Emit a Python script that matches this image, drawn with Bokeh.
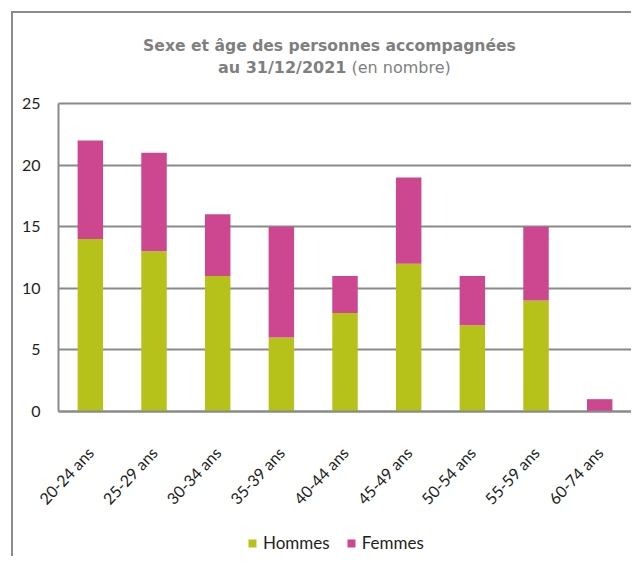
import math
from bokeh.plotting import figure
from bokeh.models import ColumnDataSource, Label, FixedTicker, Range1d, Legend, LegendItem
from bokeh.embed import file_html
from bokeh.resources import INLINE

categories = ["20-24 ans", "25-29 ans", "30-34 ans", "35-39 ans", "40-44 ans",
              "45-49 ans", "50-54 ans", "55-59 ans", "60-74 ans"]
hommes = [14, 13, 11, 6, 8, 12, 7, 9, 0]
femmes = [8, 8, 5, 9, 3, 7, 4, 6, 1]
series = ["Hommes", "Femmes"]
colors = ["#b6c21a", "#cc478f"]
y_ticks = [0, 5, 10, 15, 20, 25]
y_max = 25

GRID = "#8a8a8a"
TXT = "#1e1e1e"
TITLE = "#7f7f7f"

n = len(categories)
xpos = [i + 0.5 for i in range(n)]  # centre of each category slot
src = ColumnDataSource(dict(x=xpos, cat=categories, Hommes=hommes, Femmes=femmes))

p = figure(x_range=Range1d(-0.707, 9.031),
           y_range=Range1d(-11.93, 31.49),
           width=620, height=545, output_backend="svg", toolbar_location=None,
           min_border_left=0, min_border_right=0, min_border_top=10,
           min_border_bottom=0)
p.margin = (11, 0, 0, 11)
p.styles = {"border-left": "2px solid #8c8c8c", "border-top": "2px solid #8c8c8c"}

rs = p.vbar_stack(series, x="x", width=0.4, color=colors, source=src, line_width=0)

p.outline_line_color = None
p.xgrid.grid_line_color = None
p.ygrid.grid_line_color = GRID
p.ygrid.grid_line_width = 2
p.ygrid.bounds = (0, y_max)
p.ygrid.cross_bounds = (0, n)
p.yaxis.ticker = FixedTicker(ticks=y_ticks)
p.yaxis.bounds = (0, y_max)
p.yaxis.fixed_location = 0
p.xaxis.ticker = FixedTicker(ticks=xpos)
p.xaxis.major_label_overrides = {x: c for x, c in zip(xpos, categories)}
p.xaxis.bounds = (0, n)
p.xaxis.fixed_location = 0
for ax in (p.xaxis, p.yaxis):
    ax.axis_line_color = GRID
    ax.axis_line_width = 2
    ax.major_tick_line_color = None
    ax.minor_tick_line_color = None
    ax.major_label_text_font = "Lato"
    ax.major_label_text_font_size = "16px"
    ax.major_label_text_color = TXT
p.yaxis.major_label_standoff = 12
p.xaxis.major_label_orientation = 0.82
p.xaxis.major_label_standoff = 32

# Title (inside the extended frame, above the 25 gridline)
p.add_layout(Label(x=4.256, y=29.63, text="Sexe et âge des personnes accompagnées",
                   text_align="center", text_baseline="middle",
                   text_font="DejaVu Sans", text_font_style="bold",
                   text_font_size="15.6px", text_color=TITLE))
p.add_layout(Label(x=4.523, y=27.92, text="au 31/12/2021",
                   text_align="right", text_baseline="middle",
                   text_font="DejaVu Sans", text_font_style="bold",
                   text_font_size="16px", text_color=TITLE))
p.add_layout(Label(x=4.602, y=27.92, text="(en nombre)",
                   text_align="left", text_baseline="middle",
                   text_font="DejaVu Sans", text_font_style="normal",
                   text_font_size="16px", text_color=TITLE))

lg = Legend(items=[LegendItem(label=s, renderers=[r]) for s, r in zip(series, rs)])
lg.orientation = "horizontal"
lg.location = (234, 5)
lg.border_line_color = None
lg.background_fill_alpha = 0
lg.glyph_width = 10
lg.glyph_height = 10
lg.label_text_font = "Lato"
lg.label_text_font_size = "17px"
lg.label_text_color = TXT
lg.spacing = 16
lg.label_standoff = 6
lg.padding = 4
lg.margin = 0
p.add_layout(lg, "center")

open("out.html", "w").write(file_html(p, INLINE))
